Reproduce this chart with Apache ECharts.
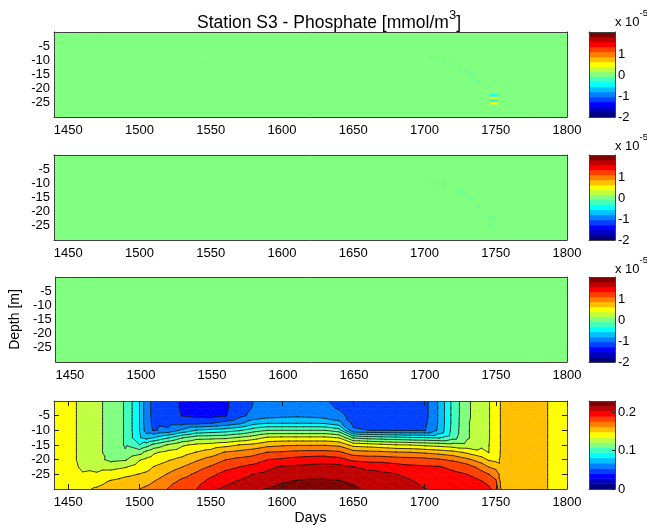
<!DOCTYPE html>
<html>
<head>
<meta charset="utf-8">
<script src="https://cdn.jsdelivr.net/npm/echarts@6/dist/echarts.min.js"></script>
<style>
  html, body { margin: 0; padding: 0; background: #fff; }
  #chart { width: 647px; height: 528px; }
</style>
</head>
<body>
<div id="chart"></div>
<script>
// ---- axes ----
const dayRange = [1440, 1800];
const depthRange = [-30, 0];
const dayTicks = [1450, 1500, 1550, 1600, 1650, 1700, 1750, 1800];
const depthTicks = [-25, -20, -15, -10, -5];

// ---- upper three panels: phosphate differences (mmol/m3) ----
const anomalyRange = [-2.0e-5, 2.1e-5];
const anomalyTicks = [-2e-5, -1e-5, 0, 1e-5];
const anomalyDays = [1440, 1800];
const anomalyDepths = [0, -30];
const anomalyProfiles = [[0, 0], [0, 0]];

// isolated non-zero cells [day, depth, value]
const dotsPanel1 = [
  [1705.1, -9.3, -2e-6], [1709.3, -9.3, -2e-6], [1713.5, -10.1, -2e-6],
  [1717.5, -11.0, -2e-6], [1725.1, -13.1, -2e-6], [1728.6, -13.8, -2e-6],
  [1732.1, -14.8, -2e-6], [1734.6, -16.7, -2e-6], [1737.4, -17.5, -2e-6],
  [1748.8, -26.1, -2e-6]
];
const stripsPanel1 = [
  [1748.8, -22.3, -4.5e-6], [1748.8, -23.4, 5e-6],
  [1748.8, -24.2, -4.5e-6], [1748.8, -25.2, 5e-6]
];
const dotsPanel2 = [
  [1705.1, -9.1, -1.5e-6], [1709.3, -9.1, -1.5e-6], [1713.5, -10.2, -1.5e-6],
  [1725.2, -12.9, -1.5e-6], [1728.7, -13.9, -1.5e-6], [1732.1, -14.9, -1.5e-6],
  [1737.4, -17.9, -1.5e-6], [1745.6, -22.1, -1.5e-6], [1747.9, -22.1, -1.5e-6],
  [1746.1, -25.1, -1.5e-6]
];
const dotsPanel3 = [];

// ---- bottom panel: phosphate (mmol/m3), one profile per day, 0 m to -30 m ----
const phosphateRange = [0, 0.2295];
const phosphateTicks = [0, 0.1, 0.2];
const profileDepths = [0, -2.5, -5, -7.5, -10, -12.5, -15, -17.5, -20, -22.5, -25, -27.5, -30];
const profileDays = [1440, 1450, 1460, 1470, 1480, 1490, 1500, 1505, 1510, 1520, 1530, 1540,
  1550, 1560, 1570, 1580, 1590, 1600, 1610, 1620, 1630, 1640, 1650, 1660, 1670, 1680, 1690,
  1700, 1710, 1720, 1730, 1740, 1745, 1750, 1755, 1760, 1770, 1780, 1790, 1800];
const phosphateProfiles = [
  [0.141, 0.141, 0.141, 0.141, 0.141, 0.141, 0.141, 0.142, 0.142, 0.142, 0.142, 0.143, 0.144],
  [0.139, 0.139, 0.139, 0.139, 0.139, 0.139, 0.139, 0.139, 0.139, 0.140, 0.140, 0.142, 0.143],
  [0.132, 0.132, 0.132, 0.132, 0.132, 0.132, 0.132, 0.132, 0.132, 0.133, 0.136, 0.142, 0.146],
  [0.126, 0.126, 0.126, 0.126, 0.126, 0.126, 0.126, 0.126, 0.126, 0.130, 0.137, 0.144, 0.150],
  [0.115, 0.115, 0.115, 0.115, 0.115, 0.115, 0.115, 0.115, 0.118, 0.130, 0.142, 0.150, 0.155],
  [0.107, 0.107, 0.107, 0.107, 0.107, 0.107, 0.107, 0.109, 0.120, 0.134, 0.146, 0.153, 0.159],
  [0.081, 0.081, 0.081, 0.081, 0.081, 0.082, 0.095, 0.116, 0.134, 0.142, 0.149, 0.155, 0.162],
  [0.058, 0.058, 0.058, 0.058, 0.060, 0.076, 0.102, 0.126, 0.138, 0.144, 0.151, 0.158, 0.165],
  [0.051, 0.051, 0.051, 0.052, 0.053, 0.081, 0.112, 0.133, 0.141, 0.149, 0.155, 0.162, 0.168],
  [0.046, 0.046, 0.047, 0.049, 0.057, 0.093, 0.123, 0.139, 0.147, 0.155, 0.163, 0.170, 0.176],
  [0.039, 0.039, 0.040, 0.049, 0.070, 0.107, 0.133, 0.143, 0.152, 0.162, 0.171, 0.179, 0.187],
  [0.034, 0.034, 0.037, 0.050, 0.082, 0.116, 0.138, 0.149, 0.160, 0.170, 0.178, 0.184, 0.189],
  [0.032, 0.032, 0.036, 0.053, 0.085, 0.117, 0.140, 0.154, 0.167, 0.177, 0.186, 0.193, 0.200],
  [0.038, 0.038, 0.039, 0.058, 0.088, 0.118, 0.144, 0.163, 0.175, 0.185, 0.193, 0.199, 0.205],
  [0.047, 0.048, 0.050, 0.064, 0.093, 0.123, 0.149, 0.166, 0.179, 0.189, 0.197, 0.204, 0.211],
  [0.054, 0.055, 0.058, 0.076, 0.102, 0.129, 0.152, 0.170, 0.182, 0.193, 0.203, 0.209, 0.215],
  [0.058, 0.059, 0.062, 0.080, 0.108, 0.137, 0.158, 0.176, 0.189, 0.200, 0.206, 0.211, 0.2165],
  [0.061, 0.061, 0.064, 0.080, 0.108, 0.138, 0.160, 0.177, 0.191, 0.204, 0.209, 0.215, 0.220],
  [0.061, 0.062, 0.065, 0.080, 0.108, 0.138, 0.161, 0.179, 0.194, 0.205, 0.211, 0.217, 0.222],
  [0.060, 0.061, 0.064, 0.080, 0.108, 0.138, 0.161, 0.180, 0.196, 0.206, 0.212, 0.218, 0.223],
  [0.055, 0.057, 0.061, 0.079, 0.108, 0.138, 0.161, 0.180, 0.197, 0.207, 0.212, 0.218, 0.222],
  [0.051, 0.053, 0.058, 0.072, 0.101, 0.134, 0.159, 0.178, 0.194, 0.206, 0.212, 0.217, 0.221],
  [0.049, 0.049, 0.049, 0.051, 0.056, 0.106, 0.144, 0.168, 0.186, 0.203, 0.208, 0.214, 0.219],
  [0.047, 0.047, 0.048, 0.050, 0.0541, 0.102, 0.142, 0.166, 0.184, 0.200, 0.206, 0.210, 0.213],
  [0.047, 0.047, 0.047, 0.049, 0.0536, 0.100, 0.139, 0.165, 0.184, 0.198, 0.205, 0.209, 0.211],
  [0.047, 0.047, 0.047, 0.049, 0.053, 0.098, 0.136, 0.163, 0.182, 0.195, 0.203, 0.207, 0.209],
  [0.047, 0.047, 0.048, 0.050, 0.053, 0.096, 0.135, 0.162, 0.181, 0.192, 0.199, 0.204, 0.207],
  [0.049, 0.049, 0.049, 0.051, 0.053, 0.095, 0.132, 0.160, 0.180, 0.191, 0.195, 0.199, 0.203],
  [0.069, 0.069, 0.069, 0.069, 0.070, 0.093, 0.130, 0.157, 0.177, 0.190, 0.194, 0.197, 0.200],
  [0.099, 0.099, 0.099, 0.099, 0.100, 0.103, 0.127, 0.153, 0.173, 0.186, 0.192, 0.194, 0.197],
  [0.119, 0.119, 0.119, 0.120, 0.120, 0.120, 0.126, 0.146, 0.165, 0.182, 0.189, 0.192, 0.194],
  [0.130, 0.130, 0.130, 0.130, 0.130, 0.130, 0.132, 0.139, 0.155, 0.170, 0.181, 0.190, 0.193],
  [0.134, 0.134, 0.134, 0.134, 0.134, 0.134, 0.1345, 0.1347, 0.147, 0.162, 0.176, 0.185, 0.192],
  [0.142, 0.142, 0.142, 0.142, 0.142, 0.142, 0.142, 0.143, 0.145, 0.158, 0.170, 0.178, 0.184],
  [0.152, 0.152, 0.152, 0.152, 0.152, 0.152, 0.152, 0.152, 0.152, 0.152, 0.153, 0.153, 0.154],
  [0.155, 0.155, 0.155, 0.155, 0.155, 0.155, 0.155, 0.155, 0.155, 0.155, 0.155, 0.155, 0.155],
  [0.156, 0.156, 0.156, 0.156, 0.156, 0.156, 0.156, 0.156, 0.156, 0.156, 0.156, 0.156, 0.156],
  [0.153, 0.153, 0.153, 0.153, 0.153, 0.153, 0.153, 0.153, 0.153, 0.153, 0.153, 0.153, 0.153],
  [0.146, 0.146, 0.146, 0.146, 0.146, 0.146, 0.146, 0.146, 0.146, 0.146, 0.146, 0.146, 0.146],
  [0.142, 0.142, 0.142, 0.142, 0.142, 0.142, 0.142, 0.142, 0.142, 0.142, 0.142, 0.142, 0.142]
];

// ---- styling ----
const FONT = '"Liberation Sans", Arial, Helvetica, sans-serif';
const FRAME = '#404040';
const TICK = '#222';
const NBANDS = 17;

function jet(t) {
  const c = v => Math.round(255 * Math.max(0, Math.min(1, v)));
  return 'rgb(' + c(1.5 - Math.abs(4 * t - 3)) + ',' + c(1.5 - Math.abs(4 * t - 2)) + ',' + c(1.5 - Math.abs(4 * t - 1)) + ')';
}
const palette = [];
for (let k = 0; k < NBANDS; k++) palette.push(jet(k / (NBANDS - 1)));

function levelsOf(range) {
  const out = [];
  for (let k = 0; k <= NBANDS; k++) out.push(range[0] + (range[1] - range[0]) * k / NBANDS);
  return out;
}
const anomalyLevels = levelsOf(anomalyRange);
const phosphateLevels = levelsOf(phosphateRange);

function bandOf(v, levels) {
  const k = Math.floor((v - levels[0]) / (levels[1] - levels[0]));
  return Math.max(0, Math.min(NBANDS - 1, k));
}

// ---- filled contours on a day x depth grid (triangulated cells) ----
function cellData(days, depths) {
  const out = [];
  for (let i = 0; i < days.length - 1; i++)
    for (let j = 0; j < depths.length - 1; j++)
      out.push([days[i], depths[j], i, j]);
  return out;
}
function clipHalf(poly, level, keepAbove) {
  const out = [];
  for (let n = 0; n < poly.length; n++) {
    const a = poly[n], b = poly[(n + 1) % poly.length];
    const ina = keepAbove ? a.v >= level : a.v <= level;
    const inb = keepAbove ? b.v >= level : b.v <= level;
    if (ina) out.push(a);
    if (ina !== inb) {
      const t = (level - a.v) / (b.v - a.v);
      out.push({ x: a.x + t * (b.x - a.x), y: a.y + t * (b.y - a.y), v: level });
    }
  }
  return out;
}
function area(pts) {
  let s = 0;
  for (let n = 0; n < pts.length; n++) {
    const a = pts[n], b = pts[(n + 1) % pts.length];
    s += a[0] * b[1] - b[0] * a[1];
  }
  return Math.abs(s / 2);
}
function triangles(days, depths, profiles, i, j) {
  const P = (ii, jj) => ({ x: days[ii], y: depths[jj], v: profiles[ii][jj] });
  const a = P(i, j), b = P(i + 1, j), c = P(i + 1, j + 1), d = P(i, j + 1);
  return [[a, b, c], [a, c, d]];
}
function fillRenderer(days, depths, profiles, levels) {
  return function (params, api) {
    const i = api.value(2), j = api.value(3);
    const children = [];
    triangles(days, depths, profiles, i, j).forEach(tri => {
      const vs = tri.map(p => p.v);
      const vmin = Math.min.apply(null, vs), vmax = Math.max.apply(null, vs);
      for (let k = 0; k < NBANDS; k++) {
        const lo = k === 0 ? -Infinity : levels[k];
        const hi = k === NBANDS - 1 ? Infinity : levels[k + 1];
        if (vmax < lo || vmin >= hi) continue;
        let poly = tri;
        if (lo > -Infinity) poly = clipHalf(poly, lo, true);
        if (poly.length >= 3 && hi < Infinity) poly = clipHalf(poly, hi, false);
        if (poly.length < 3) continue;
        const pts = poly.map(p => api.coord([p.x, p.y]));
        if (area(pts) < 0.02) continue;
        children.push({
          type: 'polygon', shape: { points: pts },
          style: { fill: palette[k], stroke: palette[k], lineWidth: 0.6 }
        });
      }
    });
    return { type: 'group', children: children };
  };
}
function lineRenderer(days, depths, profiles, levels) {
  return function (params, api) {
    const i = api.value(2), j = api.value(3);
    const children = [];
    triangles(days, depths, profiles, i, j).forEach(tri => {
      for (let k = 1; k < NBANDS; k++) {
        const L = levels[k];
        const pts = [];
        for (let n = 0; n < 3; n++) {
          const p = tri[n], q = tri[(n + 1) % 3];
          if ((p.v < L) !== (q.v < L)) {
            const t = (L - p.v) / (q.v - p.v);
            pts.push(api.coord([p.x + t * (q.x - p.x), p.y + t * (q.y - p.y)]));
          }
        }
        if (pts.length === 2) {
          children.push({
            type: 'line',
            shape: { x1: pts[0][0], y1: pts[0][1], x2: pts[1][0], y2: pts[1][1] },
            style: { stroke: '#111', lineWidth: 0.8, lineCap: 'round' }
          });
        }
      }
    });
    return { type: 'group', children: children };
  };
}
function colorbarRenderer(levels) {
  return function (params, api) {
    const k = api.value(2);
    const p0 = api.coord([0, levels[k]]), p1 = api.coord([1, levels[k + 1]]);
    return {
      type: 'rect',
      shape: { x: p0[0], y: p1[1], width: p1[0] - p0[0], height: p0[1] - p1[1] },
      style: { fill: palette[k], stroke: palette[k], lineWidth: 0.5 }
    };
  };
}

// ---- layout ----
const panels = [
  { top: 32, height: 85 },
  { top: 155, height: 85 },
  { top: 277, height: 85 },
  { top: 401, height: 88 }
];
const grid = [];
panels.forEach(p => grid.push({ left: 54, top: p.top, width: 513, height: p.height }));
panels.forEach(p => grid.push({ left: 589, top: p.top, width: 26, height: p.height }));

const labelStyle = { color: '#000', fontFamily: FONT, fontSize: 13 };
const xAxis = [], yAxis = [];
const line = { show: true, onZero: false, lineStyle: { color: FRAME, width: 1 } };

panels.forEach((p, n) => {
  const ticks = n === 3;
  xAxis.push(Object.assign({
    gridIndex: n, type: 'value', min: dayRange[0], max: dayRange[1], position: 'bottom', z: 10,
    axisLine: line, splitLine: { show: false },
    axisTick: { show: ticks, inside: true, length: 5, customValues: dayTicks, lineStyle: { color: TICK } },
    axisLabel: Object.assign({ customValues: dayTicks, margin: 7, showMinLabel: true, showMaxLabel: true,
      formatter: v => String(v) }, labelStyle)
  }, n === 3 ? {
    name: 'Days', nameLocation: 'middle', nameGap: 22,
    nameTextStyle: { color: '#000', fontFamily: FONT, fontSize: 14 }
  } : {}));
  xAxis.push({
    gridIndex: n, type: 'value', min: dayRange[0], max: dayRange[1], position: 'top', z: 10,
    axisLine: line, splitLine: { show: false }, axisLabel: { show: false },
    axisTick: { show: ticks, inside: true, length: 5, customValues: dayTicks, lineStyle: { color: TICK } }
  });
  yAxis.push(Object.assign({
    gridIndex: n, type: 'value', min: depthRange[0], max: depthRange[1], position: 'left', z: 10,
    axisLine: line, splitLine: { show: false },
    axisTick: { show: ticks, inside: true, length: 5, customValues: depthTicks, lineStyle: { color: TICK } },
    axisLabel: Object.assign({ customValues: depthTicks, margin: 4, formatter: v => String(v) }, labelStyle)
  }, n === 2 ? {
    name: 'Depth [m]', nameLocation: 'middle', nameGap: 28,
    nameTextStyle: { color: '#000', fontFamily: FONT, fontSize: 14 }
  } : {}));
  yAxis.push({
    gridIndex: n, type: 'value', min: depthRange[0], max: depthRange[1], position: 'right', z: 10,
    axisLine: line, splitLine: { show: false }, axisLabel: { show: false },
    axisTick: { show: ticks, inside: true, length: 5, customValues: depthTicks, lineStyle: { color: TICK } }
  });
});
panels.forEach((p, n) => {
  const g = 4 + n;
  const range = n === 3 ? phosphateRange : anomalyRange;
  const ticks = n === 3 ? phosphateTicks : anomalyTicks;
  const fmt = n === 3 ? (v => String(Math.round(v * 10) / 10)) : (v => String(Math.round(v * 1e5)));
  xAxis.push({ gridIndex: g, type: 'value', min: 0, max: 1, position: 'bottom', z: 10, axisLine: line,
    axisTick: { show: false }, axisLabel: { show: false }, splitLine: { show: false } });
  xAxis.push({ gridIndex: g, type: 'value', min: 0, max: 1, position: 'top', z: 10, axisLine: line,
    axisTick: { show: false }, axisLabel: { show: false }, splitLine: { show: false } });
  yAxis.push({ gridIndex: g, type: 'value', min: range[0], max: range[1], position: 'left', z: 10, axisLine: line,
    axisTick: { show: false }, axisLabel: { show: false }, splitLine: { show: false } });
  yAxis.push({ gridIndex: g, type: 'value', min: range[0], max: range[1], position: 'right', z: 10, axisLine: line,
    splitLine: { show: false },
    axisTick: { show: n === 3, inside: true, length: 3, customValues: ticks, lineStyle: { color: TICK } },
    axisLabel: Object.assign({ customValues: ticks, margin: 3, formatter: fmt, showMinLabel: true, showMaxLabel: true }, labelStyle) });
});

// ---- series ----
const series = [];
const speckSets = [dotsPanel1, dotsPanel2, dotsPanel3];
for (let n = 0; n < 3; n++) {
  series.push({
    type: 'custom', xAxisIndex: 2 * n, yAxisIndex: 2 * n, silent: true, clip: true, z: 2,
    renderItem: fillRenderer(anomalyDays, anomalyDepths, anomalyProfiles, anomalyLevels),
    encode: { x: 0, y: 1 }, data: cellData(anomalyDays, anomalyDepths)
  });
  series.push({
    type: 'scatter', xAxisIndex: 2 * n, yAxisIndex: 2 * n, silent: true, z: 3,
    symbol: 'rect', symbolSize: [1.3, 3],
    itemStyle: { color: pr => palette[bandOf(pr.value[2], anomalyLevels)] },
    data: speckSets[n]
  });
}
series.push({
  type: 'scatter', xAxisIndex: 0, yAxisIndex: 0, silent: true, z: 3,
  symbol: 'rect', symbolSize: [8, 2.6],
  itemStyle: { color: pr => palette[bandOf(pr.value[2], anomalyLevels)] },
  data: stripsPanel1
});
series.push({
  type: 'custom', xAxisIndex: 6, yAxisIndex: 6, silent: true, clip: true, z: 2,
  renderItem: fillRenderer(profileDays, profileDepths, phosphateProfiles, phosphateLevels),
  encode: { x: 0, y: 1 }, data: cellData(profileDays, profileDepths)
});
series.push({
  type: 'custom', xAxisIndex: 6, yAxisIndex: 6, silent: true, clip: true, z: 4,
  renderItem: lineRenderer(profileDays, profileDepths, phosphateProfiles, phosphateLevels),
  encode: { x: 0, y: 1 }, data: cellData(profileDays, profileDepths)
});
for (let n = 0; n < 4; n++) {
  const levels = n === 3 ? phosphateLevels : anomalyLevels;
  const data = [];
  for (let k = 0; k < NBANDS; k++) data.push([0.5, (levels[k] + levels[k + 1]) / 2, k]);
  series.push({
    type: 'custom', xAxisIndex: 8 + 2 * n, yAxisIndex: 8 + 2 * n, silent: true, clip: true, z: 2,
    renderItem: colorbarRenderer(levels), encode: { x: 0, y: 1 }, data: data
  });
}

// ---- texts ----
const supRich = (big, small, lh) => ({
  a: { fontFamily: FONT, fontSize: big, fill: '#000', color: '#000', lineHeight: lh, verticalAlign: 'bottom' },
  s: { fontFamily: FONT, fontSize: small, fill: '#000', color: '#000', lineHeight: lh, verticalAlign: 'top' }
});
const graphic = [
  {
    type: 'text', left: 197, top: 9, z: 20,
    style: { text: '{a|Station S3 - Phosphate [mmol/m}{s|3}{a|]}', rich: supRich(17.5, 13, 23) }
  }
];
[22, 146, 269].forEach(y => {
  graphic.push({
    type: 'text', left: 615, top: y - 14, z: 20,
    style: { text: '{a|x 10}{s|-5}', rich: supRich(13, 9.5, 21) }
  });
});

const chart = echarts.init(document.getElementById('chart'), null, { renderer: 'canvas' });
chart.setOption({
  animation: false,
  backgroundColor: '#fff',
  grid: grid,
  xAxis: xAxis,
  yAxis: yAxis,
  series: series,
  graphic: graphic
});
</script>
</body>
</html>
